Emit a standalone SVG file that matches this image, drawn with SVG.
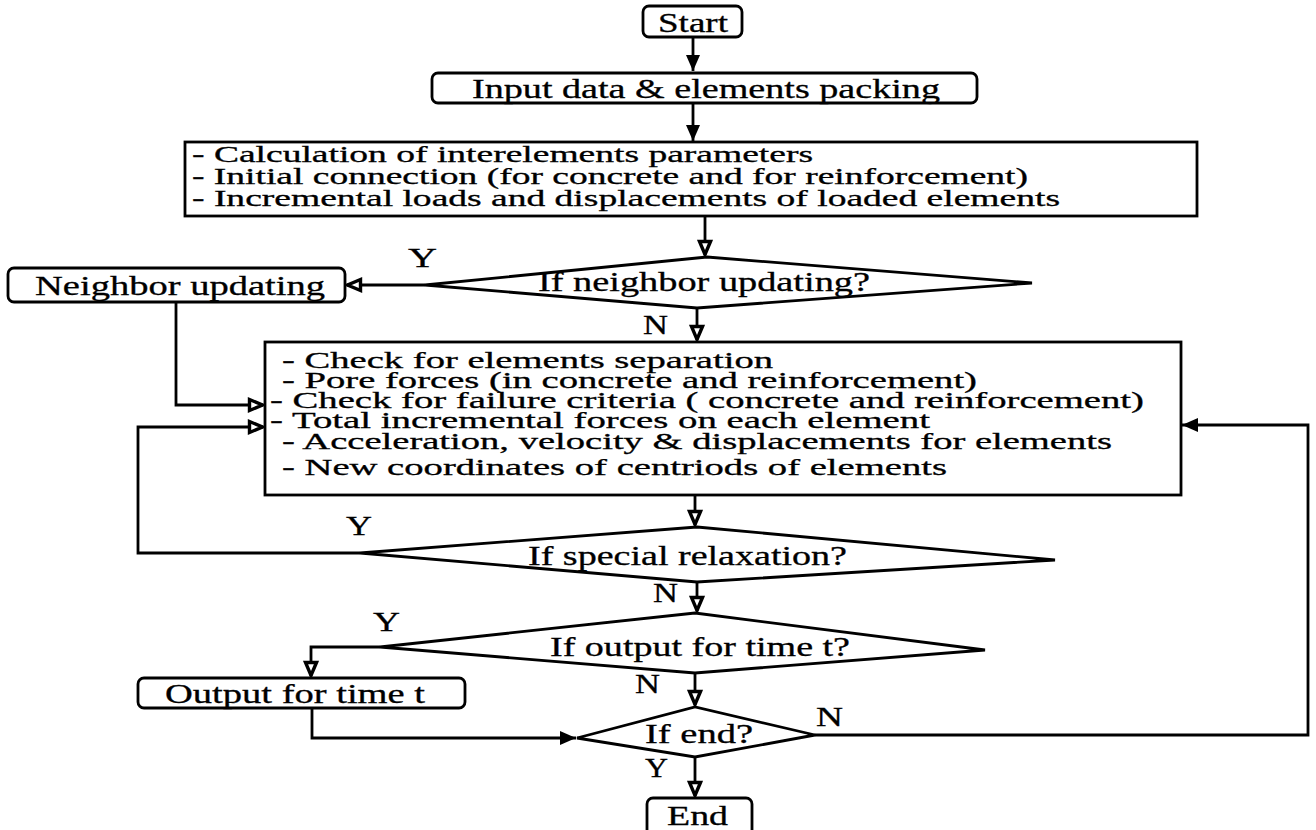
<svg xmlns="http://www.w3.org/2000/svg" width="1316" height="830" viewBox="0 0 1316 830">
<style>
text{font-family:"Liberation Serif","Times New Roman",serif;font-size:27px;fill:#000;stroke:#000;stroke-width:0.3px}
.sm{font-size:23px}
.box{fill:#fff;stroke:#000;stroke-width:2.8}
.con{fill:none;stroke:#000;stroke-width:2.8}
</style>
<defs>
<marker id="solid" markerUnits="userSpaceOnUse" viewBox="0 0 16 14" refX="16" refY="7" markerWidth="16" markerHeight="14" orient="auto" overflow="visible">
<path d="M0,0 L16,7 L0,14 z" fill="#000"/>
</marker>
<marker id="open" markerUnits="userSpaceOnUse" viewBox="0 0 16 14" refX="15" refY="7" markerWidth="16" markerHeight="14" orient="auto" overflow="visible">
<path d="M1.5,1.5 L14.5,7 L1.5,12.5 z" fill="#fff" stroke="#000" stroke-width="3.4" stroke-linejoin="miter"/>
</marker>
</defs>
<rect width="1316" height="830" fill="#fff"/>

<g id="connectors">
<path class="con" d="M693,37 V71" marker-end="url(#solid)"/>
<path class="con" d="M693,103 V141" marker-end="url(#solid)"/>
<path class="con" d="M705,216 V255" marker-end="url(#open)"/>
<path class="con" d="M425,285 H347" marker-end="url(#open)"/>
<path class="con" d="M697,308 V340" marker-end="url(#open)"/>
<path class="con" d="M176,302 V405 H263" marker-end="url(#open)"/>
<path class="con" d="M360,553 H138 V427 H263" marker-end="url(#open)"/>
<path class="con" d="M695,495 V525" marker-end="url(#open)"/>
<path class="con" d="M697,582 V611" marker-end="url(#open)"/>
<path class="con" d="M380,647 H311 V676" marker-end="url(#open)"/>
<path class="con" d="M312,708 V738 H576" marker-end="url(#solid)"/>
<path class="con" d="M695,673 V705" marker-end="url(#open)"/>
<path class="con" d="M815,735 H1308 V425 H1182" marker-end="url(#solid)"/>
<path class="con" d="M695,757 V796" marker-end="url(#open)"/>
</g>

<g id="start">
<rect class="box" x="643" y="6" width="99" height="31" rx="6"/>
<text x="658" y="32" textLength="70" lengthAdjust="spacingAndGlyphs">Start</text>
</g>

<g id="input">
<rect class="box" x="432" y="73" width="545" height="30" rx="6"/>
<text x="472" y="98" textLength="468" lengthAdjust="spacingAndGlyphs">Input data &amp; elements packing</text>
</g>

<g id="init">
<rect class="box" x="185" y="142" width="1012" height="74"/>
<text class="sm" x="192" y="162" textLength="621" lengthAdjust="spacingAndGlyphs">- Calculation of interelements parameters</text>
<text class="sm" x="192" y="184" textLength="836" lengthAdjust="spacingAndGlyphs">- Initial connection (for concrete and for reinforcement)</text>
<text class="sm" x="192" y="206" textLength="868" lengthAdjust="spacingAndGlyphs">- Incremental loads and displacements of loaded elements</text>
</g>

<g id="neighbor-decision">
<polygon class="box" points="425,285 707,257 1032,283 697,308"/>
<text x="538" y="291" textLength="332" lengthAdjust="spacingAndGlyphs">If neighbor updating?</text>
<text x="408" y="267" textLength="29" lengthAdjust="spacingAndGlyphs">Y</text>
<text x="643" y="334" textLength="25" lengthAdjust="spacingAndGlyphs">N</text>
</g>

<g id="neighbor">
<rect class="box" x="8" y="268" width="337" height="34" rx="6"/>
<text x="35" y="295" textLength="290" lengthAdjust="spacingAndGlyphs">Neighbor updating</text>
</g>

<g id="compute">
<rect class="box" x="265" y="342" width="916" height="153"/>
<text class="sm" x="282" y="368" textLength="491" lengthAdjust="spacingAndGlyphs">- Check for elements separation</text>
<text class="sm" x="282" y="388" textLength="695" lengthAdjust="spacingAndGlyphs">- Pore forces (in concrete and reinforcement)</text>
<text class="sm" x="270" y="408" textLength="874" lengthAdjust="spacingAndGlyphs">- Check for failure criteria ( concrete and reinforcement)</text>
<text class="sm" x="270" y="428" textLength="660" lengthAdjust="spacingAndGlyphs">- Total incremental forces on each element</text>
<text class="sm" x="282" y="449" textLength="830" lengthAdjust="spacingAndGlyphs">- Acceleration, velocity &amp; displacements for elements</text>
<text class="sm" x="282" y="475" textLength="665" lengthAdjust="spacingAndGlyphs">- New coordinates of centriods of elements</text>
</g>

<g id="relax-decision">
<polygon class="box" points="360,553 697,527 1055,560 697,582"/>
<text x="528" y="565" textLength="319" lengthAdjust="spacingAndGlyphs">If special relaxation?</text>
<text x="346" y="535" textLength="26" lengthAdjust="spacingAndGlyphs">Y</text>
<text x="653" y="602" textLength="25" lengthAdjust="spacingAndGlyphs">N</text>
</g>

<g id="output-decision">
<polygon class="box" points="380,647 695,613 985,650 695,673"/>
<text x="550" y="656" textLength="300" lengthAdjust="spacingAndGlyphs">If output for time t?</text>
<text x="373" y="631" textLength="27" lengthAdjust="spacingAndGlyphs">Y</text>
<text x="635" y="693" textLength="25" lengthAdjust="spacingAndGlyphs">N</text>
</g>

<g id="output">
<rect class="box" x="138" y="678" width="327" height="30" rx="6"/>
<text x="165" y="703" textLength="260" lengthAdjust="spacingAndGlyphs">Output for time t</text>
</g>

<g id="end-decision">
<polygon class="box" points="577,738 695,707 815,735 695,757"/>
<text x="645" y="743" textLength="108" lengthAdjust="spacingAndGlyphs">If end?</text>
<text x="816" y="726" textLength="27" lengthAdjust="spacingAndGlyphs">N</text>
<text x="645" y="777" textLength="23" lengthAdjust="spacingAndGlyphs">Y</text>
</g>

<g id="end">
<rect class="box" x="647" y="798" width="105" height="44" rx="6"/>
<text x="667" y="825" textLength="61" lengthAdjust="spacingAndGlyphs">End</text>
</g>
</svg>
